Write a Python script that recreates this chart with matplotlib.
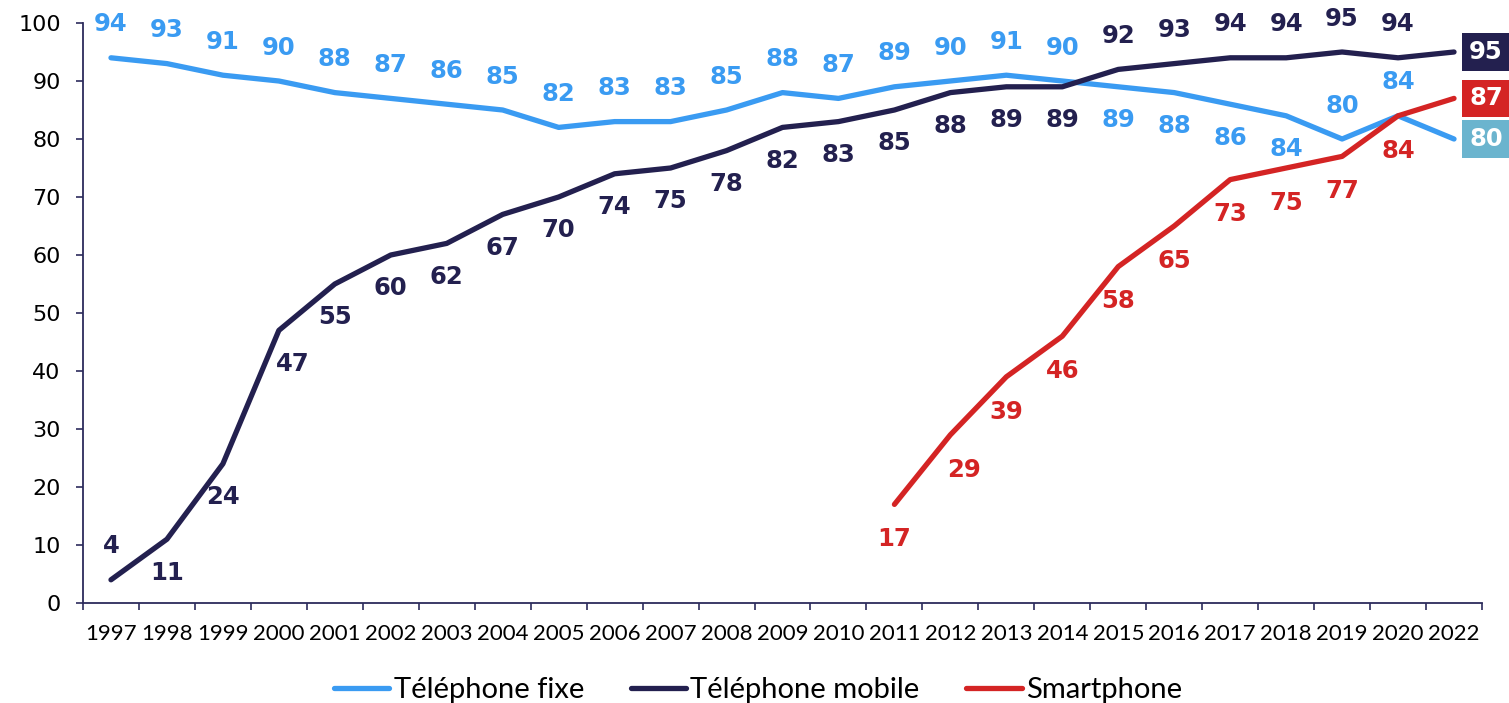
import matplotlib
matplotlib.use("Agg")
import matplotlib.pyplot as plt
import numpy as np
from matplotlib.lines import Line2D

years = ["1997", "1998", "1999", "2000", "2001", "2002", "2003", "2004", "2005",
         "2006", "2007", "2008", "2009", "2010", "2011", "2012", "2013", "2014",
         "2015", "2016", "2017", "2018", "2019", "2020", "2022"]
fixe = [94, 93, 91, 90, 88, 87, 86, 85, 82, 83, 83, 85, 88, 87, 89, 90, 91, 90,
        89, 88, 86, 84, 80, 84, 80]
mobile = [4, 11, 24, 47, 55, 60, 62, 67, 70, 74, 75, 78, 82, 83, 85, 88, 89, 89,
          92, 93, 94, 94, 95, 94, 95]
smart = [None] * 14 + [17, 29, 39, 46, 58, 65, 73, 75, 77, 84, 87]

series_names = ["Téléphone fixe", "Téléphone mobile", "Smartphone"]

C_FIXE = "#3A9BF2"
C_MOB = "#23204F"
C_SMART = "#D42424"
C_BOX_FIXE = "#6BB4CE"
AX_COL = "#2C2B5C"

W, H, DPI = 1509, 703, 100
fig = plt.figure(figsize=(W / DPI, H / DPI), dpi=DPI)
ax = fig.add_axes([83 / W, 1 - 603 / H, (1482 - 83) / W, (603 - 23) / H])

x = np.arange(len(years))
sm = np.array([np.nan if v is None else v for v in smart], dtype=float)

lw = 3.8
ax.plot(x, fixe, color=C_FIXE, lw=lw, solid_capstyle="round", solid_joinstyle="round", zorder=3)
ax.plot(x, mobile, color=C_MOB, lw=lw, solid_capstyle="round", solid_joinstyle="round", zorder=4)
ax.plot(x, sm, color=C_SMART, lw=lw, solid_capstyle="round", solid_joinstyle="round", zorder=5)

ax.set_xlim(-0.5, len(years) - 0.5)
ax.set_ylim(0, 100)
ax.set_yticks(np.arange(0, 101, 10))
ax.tick_params(axis="y", direction="out", length=5, width=1.2, color=AX_COL,
               labelsize=16, pad=11, labelcolor="black")
for lab in ax.get_yticklabels():
    lab.set_family("DejaVu Sans")

ax.set_xticks(np.arange(-0.5, len(years), 1.0))
ax.set_xticklabels([])
ax.tick_params(axis="x", which="major", direction="out", length=5, width=1.2, color=AX_COL)
ax.set_xticks(x, minor=True)
ax.set_xticklabels(years, minor=True, fontsize=16, family="Lato")
ax.tick_params(axis="x", which="minor", length=0, pad=15)

for s in ["top", "right"]:
    ax.spines[s].set_visible(False)
for s in ["left", "bottom"]:
    ax.spines[s].set_color(AX_COL)
    ax.spines[s].set_linewidth(1.3)

OFF = 24  # points
LBL = dict(fontsize=17.5, fontweight="bold", family="DejaVu Sans", ha="center", va="center")

# fixe labels: above except 2015-2018 below; last shown in box
for i, v in enumerate(fixe[:-1]):
    dy = -OFF if 18 <= i <= 21 else OFF
    ax.annotate(str(v), (i, v), xytext=(0, dy), textcoords="offset points",
                color=C_FIXE, zorder=6, **LBL)
# mobile labels: 1997 above, 1998-2014 below, 2015+ above
for i, v in enumerate(mobile[:-1]):
    if i == 0 or i >= 18:
        dy, dx = OFF, 0
    else:
        dy, dx = -OFF, (10 if i == 3 else 0)
    ax.annotate(str(v), (i, v), xytext=(dx, dy), textcoords="offset points",
                color=C_MOB, zorder=6, **LBL)
# smartphone labels: below
for i, v in enumerate(smart[:-1]):
    if v is None:
        continue
    dx = 10 if i == 15 else 0
    ax.annotate(str(v), (i, v), xytext=(dx, -OFF - 1), textcoords="offset points",
                color=C_SMART, zorder=6, **LBL)

# end boxes
last = len(years) - 1
for v, c in [(mobile[-1], C_MOB), (smart[-1], C_SMART), (fixe[-1], C_BOX_FIXE)]:
    ax.annotate(str(v), (last, v), xytext=(23, 0), textcoords="offset points",
                color="white", annotation_clip=False, zorder=7,
                bbox=dict(boxstyle="square,pad=0.28", fc=c, ec="none"), **LBL)

handles = [Line2D([], [], color=c, lw=lw, solid_capstyle="round")
           for c in (C_FIXE, C_MOB, C_SMART)]
fig.legend(handles, series_names, loc="center", bbox_to_anchor=(758 / W, 1 - 690 / H),
           ncol=3, frameon=False, prop=dict(family="Lato", size=21),
           handlelength=1.9, handletextpad=0.15, columnspacing=1.6)

fig.savefig("out.png", dpi=DPI)
